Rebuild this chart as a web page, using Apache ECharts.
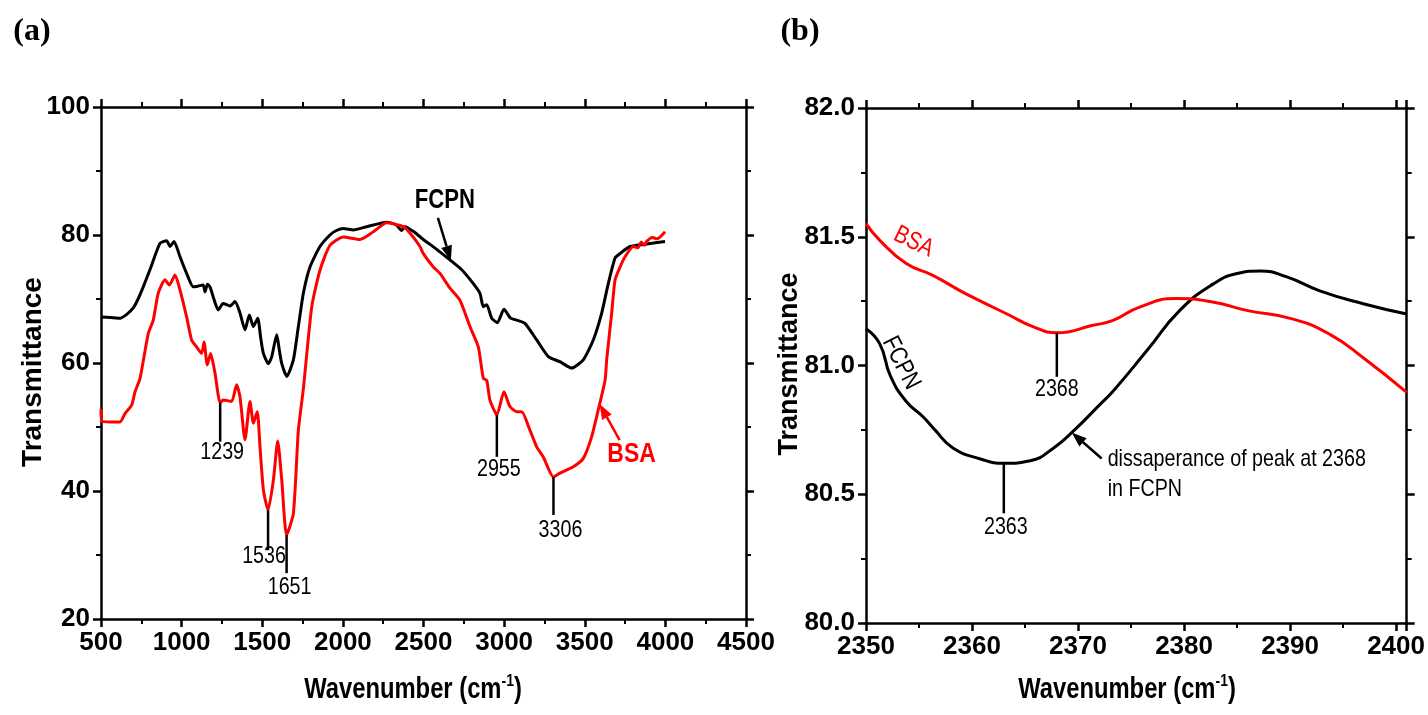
<!DOCTYPE html>
<html><head><meta charset="utf-8">
<script src="https://cdn.jsdelivr.net/npm/echarts@6/dist/echarts.min.js"></script>
<style>html,body{margin:0;padding:0;background:#fff}#c{width:1428px;height:715px}</style>
</head><body><div id="c"></div>
<script>
const SANS = '"Liberation Sans",Arial,sans-serif';
const SERIF = '"Liberation Serif","Times New Roman",serif';
const NARROW_SCALE = 0.82;

// ---- Panel (a): full spectrum ----
const fcpnA_wn = [500,560,618,660,700,730,762,810,866,907,928,953,990,1031,1072,1100,1134,1145,1160,1176,1200,1227,1258,1300,1331,1362,1393,1420,1445,1472,1490,1507,1538,1559,1590,1606,1621,1652,1693,1724,1755,1796,1858,1920,1960,2003,2065,2148,2272,2330,2365,2385,2440,2499,2580,2664,2740,2809,2850,2871,2892,2923,2958,2999,3040,3078,3129,3202,3274,3346,3419,3491,3553,3605,3646,3688,3719,3781,3884,3998];
const fcpnA_t  = [67.2,67.1,67.0,67.6,68.6,70.0,71.9,75.0,78.7,79.1,78.2,79.0,76.6,74.0,71.9,72.0,72.2,71.1,72.3,71.9,70.0,68.3,69.3,68.9,69.6,67.8,65.2,67.5,65.7,67.0,64.0,61.5,59.9,61.0,64.4,62.0,59.9,57.9,60.5,65.7,70.9,75.0,78.2,80.0,80.7,81.0,80.8,81.3,82.0,81.6,80.7,81.3,80.5,79.3,77.8,76.1,74.5,72.4,70.9,68.8,69.1,67.0,66.3,68.4,67.0,66.7,66.2,63.6,61.0,60.2,59.2,60.5,63.6,67.8,72.4,76.4,77.1,78.2,78.6,79.0];

const bsaA_wn = [500,505,560,618,649,690,711,742,793,824,855,897,924,959,990,1031,1062,1093,1124,1139,1159,1180,1207,1239,1258,1310,1341,1362,1393,1424,1445,1469,1486,1507,1536,1569,1596,1621,1651,1693,1724,1755,1807,1858,1920,2003,2106,2189,2272,2375,2416,2478,2499,2561,2602,2664,2726,2788,2840,2871,2892,2912,2955,2999,3036,3078,3109,3160,3202,3243,3306,3346,3429,3491,3543,3584,3626,3636,3667,3688,3719,3750,3801,3830,3850,3870,3884,3920,3950,3998];
const bsaA_t  = [52.8,50.9,50.8,50.8,52.1,53.4,55.5,57.6,64.6,66.7,70.9,73.0,72.2,73.75,71.4,67.2,63.6,62.5,61.5,63.3,59.7,61.5,58.4,53.8,54.2,54.0,56.6,54.7,48.0,54.0,50.6,52.4,46.9,40.2,37.0,41.7,47.8,41.7,33.1,36.5,49.5,56.0,68.8,74.5,78.4,79.7,79.3,80.5,81.9,81.3,80.3,78.2,77.1,75.0,74.0,71.7,69.8,65.7,62.5,57.6,57.3,54.2,51.9,55.5,53.2,52.4,52.4,49.5,46.9,45.3,42.2,42.8,43.8,45.1,48.5,52.7,57.3,60.5,67.8,73.0,75.0,76.6,78.2,78.0,78.9,78.4,79.0,79.6,79.4,80.5];

const peaksA = [1239,1536,1651,2955,3306];

// ---- Panel (b): 2350-2400 region ----
const fcpnB_wn = [2350,2351.3,2352.3,2353.8,2355.4,2356.5,2358.2,2360.8,2363,2365.5,2367.7,2369.6,2372.1,2373.3,2376.5,2379.6,2382.8,2385,2387.2,2389.7,2392.8,2396.9,2401];
const fcpnB_t  = [81.143,81.084,80.96,80.86,80.80,80.75,80.68,80.637,80.62,80.63,80.68,80.747,80.85,80.90,81.058,81.214,81.318,81.357,81.367,81.344,81.29,81.24,81.2];
const bsaB_wn = [2350,2351.3,2353.8,2356.3,2358.9,2360.8,2363.3,2365.8,2368,2371.4,2373.3,2375.8,2379.2,2382.8,2385.9,2390.3,2393.8,2396.9,2401];
const bsaB_t  = [81.551,81.486,81.396,81.35,81.29,81.25,81.20,81.15,81.127,81.156,81.175,81.227,81.26,81.246,81.214,81.18,81.12,81.03,80.896];

const xTicksA = {min:500, max:4500, interval:500};
const yTicksA = {min:20, max:100, interval:20};
const xTicksB = {min:2350, max:2401, interval:10};
const yTicksB = {min:80, max:82, interval:0.5};

function zip(a,b){return a.map((v,i)=>[v,b[i]]);}
function interp(xs,ys,x){for(let i=0;i<xs.length-1;i++){if(x>=xs[i]&&x<=xs[i+1]){const f=(x-xs[i])/(xs[i+1]-xs[i]);return ys[i]+f*(ys[i+1]-ys[i]);}}return ys[ys.length-1];}

const chart = echarts.init(document.getElementById('c'), null, {renderer:'canvas'});

function ax(extra, showLabel){
  return Object.assign({
    type:'value', scale:true,
    axisLine:{show:true, onZero:false, lineStyle:{color:'#000', width:2.5}},
    axisTick:{show:true, inside:false, length:8, lineStyle:{color:'#000', width:2.5}},
    minorTick:{show:true, splitNumber:2, length:5, lineStyle:{color:'#000', width:2}},
    splitLine:{show:false}, minorSplitLine:{show:false},
    axisLabel:{show:showLabel, color:'#000', fontFamily:SANS, fontWeight:'bold', fontSize:26, margin:11,
      formatter: v => String(v)}
  }, extra);
}

const option = {
  animation:false,
  backgroundColor:'#fff',
  grid:[
    {left:101, top:107, width:645, height:512},
    {left:866, top:108, width:542, height:515}
  ],
  xAxis:[
    ax(Object.assign({gridIndex:0, position:'bottom'}, xTicksA), true),
    ax(Object.assign({gridIndex:0, position:'top'}, xTicksA), false),
    ax(Object.assign({gridIndex:1, position:'bottom'}, xTicksB), true),
    ax(Object.assign({gridIndex:1, position:'top'}, xTicksB), false)
  ],
  yAxis:[
    ax(Object.assign({gridIndex:0, position:'left'}, yTicksA), true),
    ax(Object.assign({gridIndex:0, position:'right'}, yTicksA), false),
    ax(Object.assign({gridIndex:1, position:'left'}, yTicksB), true),
    ax(Object.assign({gridIndex:1, position:'right'}, yTicksB), false)
  ],
  series:[
    {name:'FCPN', type:'line', xAxisIndex:0, yAxisIndex:0, data:zip(fcpnA_wn,fcpnA_t), showSymbol:false, smooth:0.2, lineStyle:{color:'#000', width:3}, itemStyle:{color:'#000'}},
    {name:'BSA', type:'line', xAxisIndex:0, yAxisIndex:0, data:zip(bsaA_wn,bsaA_t), showSymbol:false, smooth:0.2, lineStyle:{color:'#ff0000', width:3}, itemStyle:{color:'#ff0000'}},
    {name:'FCPN', type:'line', xAxisIndex:2, yAxisIndex:2, data:zip(fcpnB_wn,fcpnB_t), showSymbol:false, smooth:0.5, lineStyle:{color:'#000', width:3}, itemStyle:{color:'#000'}},
    {name:'BSA', type:'line', xAxisIndex:2, yAxisIndex:2, data:zip(bsaB_wn,bsaB_t), showSymbol:false, smooth:0.5, lineStyle:{color:'#ff0000', width:3}, itemStyle:{color:'#ff0000'}}
  ]
};
option.xAxis[2].axisLabel.formatter = v => (Math.abs(v % 10) < 1e-9 ? String(v) : '');
option.yAxis[2].axisLabel.formatter = v => v.toFixed(1);
chart.setOption(option);

// ---- annotations ----
const pA = p => chart.convertToPixel({xAxisIndex:0, yAxisIndex:0}, p);
const pB = p => chart.convertToPixel({xAxisIndex:2, yAxisIndex:2}, p);
const G = [];
function seg(x1,y1,x2,y2,color,w){G.push({type:'line', silent:true, z:100, shape:{x1,y1,x2,y2}, style:{stroke:color, lineWidth:w||2}});}
function txt(x,y,text,opt){
  opt = opt||{};
  const s = opt.sx===undefined ? NARROW_SCALE : opt.sx;
  G.push({type:'text', silent:true, z:100, x, y, rotation:opt.rot||0, scaleX:s, scaleY:1,
    style:{text, fill:opt.color||'#000', fontFamily:opt.family||SANS, fontWeight:opt.weight||'normal', fontSize:opt.size||24,
      align:opt.align||'center', verticalAlign:'middle', rich:opt.rich}});
}
function arrow(tx,ty,fx,fy,color){
  const dx=tx-fx, dy=ty-fy, L=Math.hypot(dx,dy), ux=dx/L, uy=dy/L;
  const hl=15, hw=5.5;
  const bx=tx-ux*hl, by=ty-uy*hl;
  seg(fx,fy,bx,by,color,2.5);
  G.push({type:'polygon', silent:true, z:100, shape:{points:[[tx,ty],[bx-uy*hw,by+ux*hw],[bx+uy*hw,by-ux*hw]]}, style:{fill:color}});
}

// panel (a) peak markers on BSA
const peakLen = {1239:39, 1536:40, 1651:38, 2955:42, 3306:38};
const peakLbl = {1239:[2,50], 1536:[-4,46], 1651:[3,52], 2955:[2,55], 3306:[7,53]};
peaksA.forEach(w=>{
  const p = pA([w, interp(bsaA_wn,bsaA_t,w)]);
  seg(p[0],p[1],p[0],p[1]+peakLen[w],'#000',2.5);
  txt(p[0]+peakLbl[w][0], p[1]+peakLbl[w][1], String(w), {size:24});
});
// FCPN label + arrow (a)
{ const t = pA([2670, interp(fcpnA_wn,fcpnA_t,2670)]);
  arrow(t[0],t[1],t[0]-13,t[1]-43,'#000');
  txt(t[0]-6, t[1]-60, 'FCPN', {size:27, weight:'bold'}); }
// BSA label + arrow (a)
{ const t = pA([3592, interp(bsaA_wn,bsaA_t,3592)]);
  arrow(t[0],t[1],t[0]+20,t[1]+36,'#ff0000');
  txt(t[0]+32, t[1]+50, 'BSA', {size:28, weight:'bold', color:'#ff0000'}); }

// panel (b) peak markers
{ const p = pB([2368, interp(bsaB_wn,bsaB_t,2368)]);
  seg(p[0],p[1],p[0],p[1]+44,'#000',2.5);
  txt(p[0], p[1]+57, '2368', {size:24}); }
{ const p = pB([2363, interp(fcpnB_wn,fcpnB_t,2363)]);
  seg(p[0],p[1],p[0],p[1]+50,'#000',2.5);
  txt(p[0]+2, p[1]+64, '2363', {size:24}); }
// curve labels (b)
{ const p = pB([2354.5, 81.48]); txt(p[0], p[1], 'BSA', {size:25, color:'#ff0000', rot:-0.45}); }
{ const p = pB([2353.3, 81.01]); txt(p[0], p[1], 'FCPN', {size:25, rot:-1.1}); }
// arrow + note (b)
{ const t = pB([2369.4, interp(fcpnB_wn,fcpnB_t,2369.4)]);
  arrow(t[0],t[1],t[0]+30,t[1]+26,'#000');
  txt(t[0]+36, t[1]+27, 'dissaperance of peak at 2368', {size:24, align:'left'});
  txt(t[0]+36, t[1]+57, 'in FCPN', {size:24, align:'left'}); }

// panel titles
txt(32, 32, '(a)', {family:SERIF, weight:'bold', size:32, sx:1});
txt(800, 32, '(b)', {family:SERIF, weight:'bold', size:32, sx:1});
// axis titles
const richX = {a:{fontFamily:SANS, fontWeight:'bold', fontSize:29, lineHeight:34, fill:'#000'}, s:{fontFamily:SANS, fontWeight:'bold', fontSize:17, lineHeight:34, verticalAlign:'top', fill:'#000'}};
txt(413, 690, '{a|Wavenumber (cm}{s|-1}{a|)}', {rich:richX});
txt(1127, 690, '{a|Wavenumber (cm}{s|-1}{a|)}', {rich:richX});
txt(33, 372, 'Transmittance', {weight:'bold', size:28, rot:Math.PI/2, sx:1});
txt(790, 364, 'Transmittance', {weight:'bold', size:27, rot:Math.PI/2, sx:1});

chart.setOption({graphic:{elements:G}});
</script></body></html>
